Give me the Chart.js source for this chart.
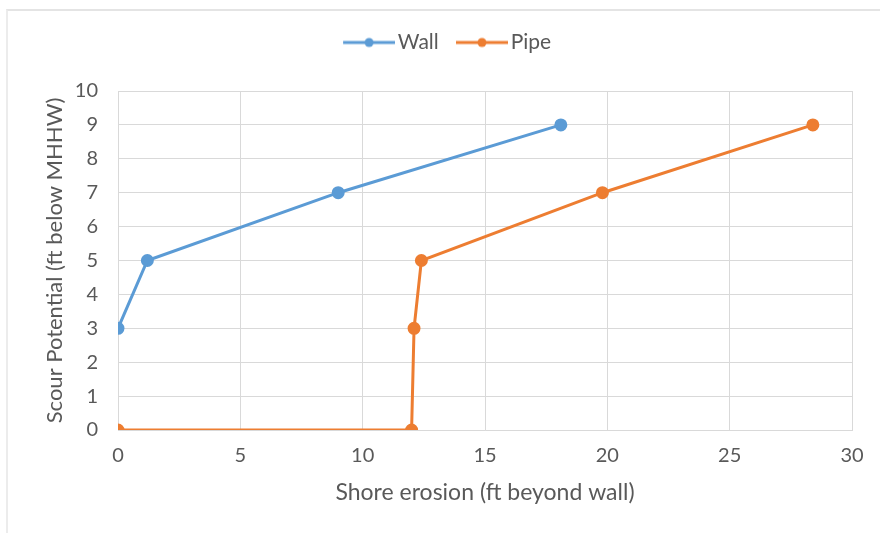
<!DOCTYPE html>
<html>
<head>
<meta charset="utf-8">
<script src="https://cdn.jsdelivr.net/npm/chart.js@4"></script>
<style>
  html, body { margin: 0; padding: 0; background: #fff; }
  #wrap { position: relative; width: 880px; height: 533px; }
  #frame { position: absolute; left: 6px; top: 9px; right: 0; bottom: 0; border-top: 2px solid #e4e4e4; border-left: 2px solid #ececec; }
</style>
</head>
<body>
<div id="wrap">
  <div id="frame"></div>
  <canvas id="myChart" width="880" height="533"></canvas>
</div>
<script>
// data
const wallX = [0, 1.2, 9, 18.1];
const wallY = [3, 5, 7, 9];
const pipeX = [0, 12, 12.1, 12.4, 19.8, 28.4];
const pipeY = [0, 0, 3, 5, 7, 9];
const xTicks = [0, 5, 10, 15, 20, 25, 30];
const yTicks = [0, 1, 2, 3, 4, 5, 6, 7, 8, 9, 10];

const blue = '#5B9BD5';
const orange = '#ED7D31';
const grey = '#595959';
const font = "Lato, 'Open Sans', sans-serif";

function pairs(xs, ys) {
    return xs.map((x, i) => ({ x: x, y: ys[i] }));
}

// legend swatch: line with a dot, shifted right so it sits close to the text
function swatch(color) {
    let c = document.createElement('canvas');
    c.width = 60; c.height = 12;
    let g = c.getContext('2d');
    g.strokeStyle = color;
    g.lineWidth = 3;
    g.beginPath();
    g.moveTo(8, 6); g.lineTo(60, 6);
    g.stroke();
    g.fillStyle = color;
    g.beginPath();
    g.arc(34, 6, 4.5, 0, Math.PI * 2);
    g.fill();
    return c;
}

// empty box under the legend to push the plot down
const spacer = {
    id: 'spacer',
    beforeInit(chart) {
        Chart.layouts.addBox(chart, {
            position: 'top',
            weight: 0,
            fullSize: true,
            options: {},
            isHorizontal() { return true; },
            update(w, h) { this.width = w; this.height = 28; },
            draw() {}
        });
    }
};

let ctx = document.getElementById('myChart');

var myChart = new Chart(ctx, {
    type: 'scatter',
    data: {
        datasets: [{
            label: 'Wall',
            data: pairs(wallX, wallY),
            showLine: true,
            borderColor: blue,
            backgroundColor: blue,
            borderWidth: 3,
            pointRadius: 5,
            pointStyle: 'circle'
        }, {
            label: 'Pipe',
            data: pairs(pipeX, pipeY),
            showLine: true,
            borderColor: orange,
            backgroundColor: orange,
            borderWidth: 3,
            pointRadius: 5,
            pointStyle: 'circle'
        }]
    },
    plugins: [spacer],
    options: {
        responsive: false,
        animation: false,
        layout: { padding: { left: 42, right: 28, top: 15, bottom: 20 } },
        plugins: {
            legend: {
                position: 'top',
                labels: {
                    usePointStyle: true,
                    pointStyleWidth: 44.5,
                    color: grey,
                    padding: 17,
                    font: { family: font, size: 21 },
                    generateLabels: function (chart) {
                        return chart.data.datasets.map((ds, i) => ({
                            text: ds.label,
                            fillStyle: ds.borderColor,
                            strokeStyle: ds.borderColor,
                            fontColor: grey,
                            lineWidth: 0,
                            pointStyle: swatch(ds.borderColor),
                            datasetIndex: i,
                            hidden: false
                        }));
                    }
                }
            },
            tooltip: { enabled: false }
        },
        scales: {
            x: {
                type: 'linear',
                min: 0,
                max: 30,
                afterBuildTicks: s => { s.ticks = xTicks.map(v => ({ value: v })); },
                afterFit: s => { s.height = 83; },
                grid: { color: '#d9d9d9', drawTicks: false },
                border: { color: '#d9d9d9' },
                ticks: { color: grey, padding: 14, font: { family: font, size: 20 } },
                title: {
                    display: true,
                    text: 'Shore erosion (ft beyond wall)',
                    color: grey,
                    font: { family: font, size: 23 },
                    padding: { top: 4, bottom: 7 }
                }
            },
            y: {
                type: 'linear',
                min: 0,
                max: 10,
                afterBuildTicks: s => { s.ticks = yTicks.map(v => ({ value: v })); },
                afterFit: s => { s.width = 76; },
                grid: { color: '#d9d9d9', drawTicks: false },
                border: { color: '#d9d9d9' },
                ticks: { color: grey, padding: 20, font: { family: font, size: 20 } },
                title: {
                    display: true,
                    text: 'Scour Potential (ft below MHHW)',
                    color: grey,
                    font: { family: font, size: 22 },
                    padding: { top: 0, bottom: 4 }
                }
            }
        }
    }
});
</script>
</body>
</html>
